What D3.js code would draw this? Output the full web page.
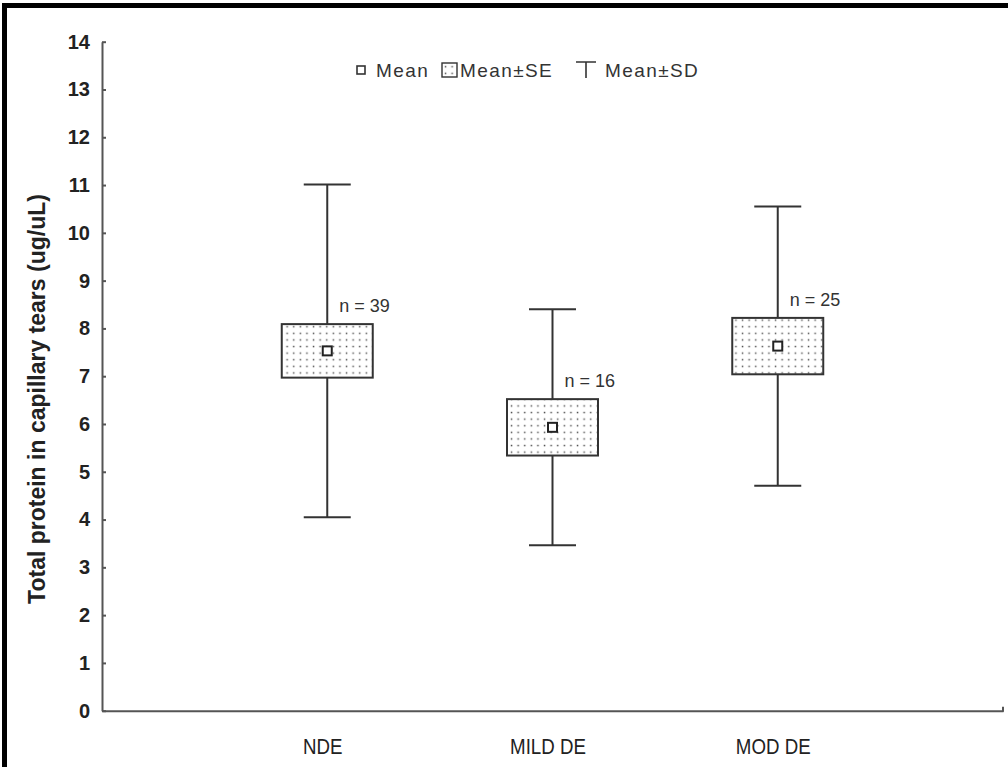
<!DOCTYPE html>
<html>
<head>
<meta charset="utf-8">
<script src="https://cdn.jsdelivr.net/npm/d3@7"></script>
<style>
  html, body { margin: 0; padding: 0; background: #fff; }
  svg { display: block; }
</style>
</head>
<body>
<div id="chart"></div>
<script>
// values
const groups = ['NDE', 'MILD DE', 'MOD DE'];
const means = [7.53, 5.93, 7.63];
const seValues = [0.56, 0.59, 0.59];
const sdValues = [3.48, 2.47, 2.92];
const nCounts = [39, 16, 25];
const yTicks = d3.range(0, 15);

const W = 1008, H = 767;
const plotLeft = 102, plotRight = 1003, plotTop = 41.7, plotBottom = 710.7;

const svg = d3.select('#chart').append('svg')
    .attr('width', W)
    .attr('height', H);

// dotted fill used for the SE boxes
const defs = svg.append('defs');
const pat = defs.append('pattern')
    .attr('id', 'dots')
    .attr('patternUnits', 'userSpaceOnUse')
    .attr('width', 6.6)
    .attr('height', 6.6);
pat.append('rect').attr('width', 6.6).attr('height', 6.6).attr('fill', '#fff');
pat.append('rect').attr('x', 2.6).attr('y', 2.6).attr('width', 1.5).attr('height', 1.5).attr('fill', '#555');

// frame (only left and top edges show)
svg.append('path')
    .attr('d', `M4.5,${H}V5.5H${W}`)
    .attr('fill', 'none')
    .attr('stroke', '#000')
    .attr('stroke-width', 5);

const x = d3.scaleLinear().domain([0, 4]).range([plotLeft, plotRight]);
const y = d3.scaleLinear().domain([0, 14]).range([plotBottom, plotTop]);

// y axis, ticks pointing inward
const yAxis = svg.append('g')
    .attr('transform', `translate(${plotLeft},0)`)
    .call(d3.axisLeft(y).tickValues(yTicks).tickSize(-4).tickSizeOuter(0).tickPadding(12));
yAxis.select('.domain').attr('stroke', '#555').attr('stroke-width', 2);
yAxis.selectAll('.tick line').attr('stroke', '#555').attr('stroke-width', 2);
yAxis.selectAll('.tick text')
    .attr('fill', '#222')
    .style('font-family', 'Liberation Sans, Arial, sans-serif')
    .style('font-size', '20px')
    .style('font-weight', 'bold');

// x axis, no category ticks
const xAxis = svg.append('g')
    .attr('transform', `translate(0,${plotBottom})`)
    .call(d3.axisBottom(x).tickValues([1, 2, 3]).tickFormat(d => groups[d - 1]).tickSize(0).tickSizeOuter(0).tickPadding(0));
xAxis.select('.domain').attr('stroke', '#555').attr('stroke-width', 2);
xAxis.selectAll('.tick text')
    .attr('fill', '#222')
    .attr('dy', null)
    .attr('y', 43)
    .attr('transform', 'translate(-5,0) scale(0.85,1)')
    .style('font-family', 'Liberation Sans, Arial, sans-serif')
    .style('font-size', '22px');
svg.append('line')
    .attr('x1', plotRight).attr('x2', plotRight)
    .attr('y1', plotBottom + 1).attr('y2', plotBottom - 4)
    .attr('stroke', '#555').attr('stroke-width', 2);

// y axis title
svg.append('text')
    .attr('transform', 'translate(45,399) rotate(-90)')
    .attr('text-anchor', 'middle')
    .attr('fill', '#222')
    .style('font-family', 'Liberation Sans, Arial, sans-serif')
    .style('font-size', '23px')
    .style('font-weight', 'bold')
    .text('Total protein in capillary tears (ug/uL)');

const boxW = 91, capW = 47;
const g = svg.append('g');

groups.forEach((name, i) => {
    const cx = x(i + 1);
    const m = means[i], se = seValues[i], sd = sdValues[i];

    // whisker (mean ± SD)
    g.append('line')
        .attr('x1', cx).attr('x2', cx)
        .attr('y1', y(m + sd)).attr('y2', y(m - sd))
        .attr('stroke', '#333').attr('stroke-width', 2);
    [m + sd, m - sd].forEach(v => {
        g.append('line')
            .attr('x1', cx - capW / 2).attr('x2', cx + capW / 2)
            .attr('y1', y(v)).attr('y2', y(v))
            .attr('stroke', '#333').attr('stroke-width', 2);
    });

    // box (mean ± SE)
    g.append('rect')
        .attr('x', cx - boxW / 2)
        .attr('y', y(m + se))
        .attr('width', boxW)
        .attr('height', y(m - se) - y(m + se))
        .attr('fill', 'url(#dots)')
        .attr('stroke', '#333').attr('stroke-width', 2);

    // mean marker
    g.append('rect')
        .attr('x', cx - 4.5).attr('y', y(m) - 4.5)
        .attr('width', 9).attr('height', 9)
        .attr('fill', '#fff')
        .attr('stroke', '#222').attr('stroke-width', 2);

    g.append('text')
        .attr('x', cx + 12)
        .attr('y', y(m + se) - 12)
        .attr('fill', '#333')
        .style('font-family', 'Liberation Sans, Arial, sans-serif')
        .style('font-size', '18px')
        .text(`n = ${nCounts[i]}`);
});

// legend
const leg = svg.append('g').attr('transform', 'translate(0,70)');
const legFont = sel => sel
    .attr('fill', '#333')
    .attr('dy', '0.36em')
    .style('font-family', 'Liberation Sans, Arial, sans-serif')
    .style('font-size', '19px')
    .style('letter-spacing', '1.4px');

leg.append('rect')
    .attr('x', 357).attr('y', -4).attr('width', 8).attr('height', 8)
    .attr('fill', '#fff').attr('stroke', '#333').attr('stroke-width', 1.6);
leg.append('text').attr('x', 376).call(legFont).text('Mean');

leg.append('rect')
    .attr('x', 442).attr('y', -7).attr('width', 15).attr('height', 14)
    .attr('fill', 'url(#dots)').attr('stroke', '#333').attr('stroke-width', 1.4);
leg.append('text').attr('x', 460).call(legFont).text('Mean±SE');

leg.append('path')
    .attr('d', 'M576,-8H596M586,-8V8')
    .attr('fill', 'none').attr('stroke', '#333').attr('stroke-width', 1.6);
leg.append('text').attr('x', 605).call(legFont).text('Mean±SD');
</script>
</body>
</html>
